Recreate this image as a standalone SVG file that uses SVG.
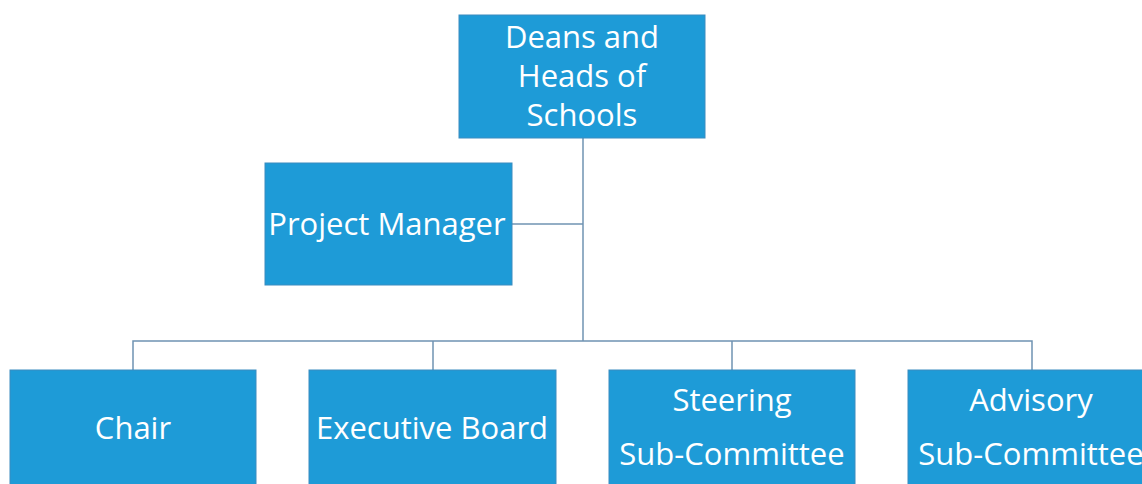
<svg xmlns="http://www.w3.org/2000/svg" width="1142" height="484" viewBox="0 0 1142 484">
<style>
.box{fill:#1E9BD7;stroke:#3A8CC0;stroke-width:1}
.t{font-family:"Open Sans","Noto Sans",sans-serif;font-size:31px;fill:#FFFFFF;text-anchor:middle}
.c{stroke:#6F93B2;stroke-width:1.5;fill:none}
</style>
<rect width="1142" height="484" fill="#FFFFFF"/>
<g id="connectors">
<path class="c" d="M583,138 V341"/>
<path class="c" d="M512,224 H583"/>
<path class="c" d="M133,370 V341 H1032 V370"/>
<path class="c" d="M433,341 V370"/>
<path class="c" d="M732,341 V370"/>
</g>
<g id="deans">
<rect class="box" x="459" y="15" width="246" height="123"/>
<text class="t" x="582" y="48">Deans and</text>
<text class="t" x="582" y="87">Heads of</text>
<text class="t" x="582" y="126">Schools</text>
</g>
<g id="pm">
<rect class="box" x="265" y="163" width="247" height="122"/>
<text class="t" x="387" y="235">Project Manager</text>
</g>
<g id="chair">
<rect class="box" x="10" y="370" width="246" height="123"/>
<text class="t" x="133" y="439">Chair</text>
</g>
<g id="exec">
<rect class="box" x="309" y="370" width="247" height="123"/>
<text class="t" x="432" y="439">Executive Board</text>
</g>
<g id="steering">
<rect class="box" x="609" y="370" width="246" height="123"/>
<text class="t" x="732" y="411">Steering</text>
<text class="t" x="732" y="465">Sub-Committee</text>
</g>
<g id="advisory">
<rect class="box" x="908" y="370" width="246" height="123"/>
<text class="t" x="1031" y="411">Advisory</text>
<text class="t" x="1031" y="465">Sub-Committee</text>
</g>
</svg>
